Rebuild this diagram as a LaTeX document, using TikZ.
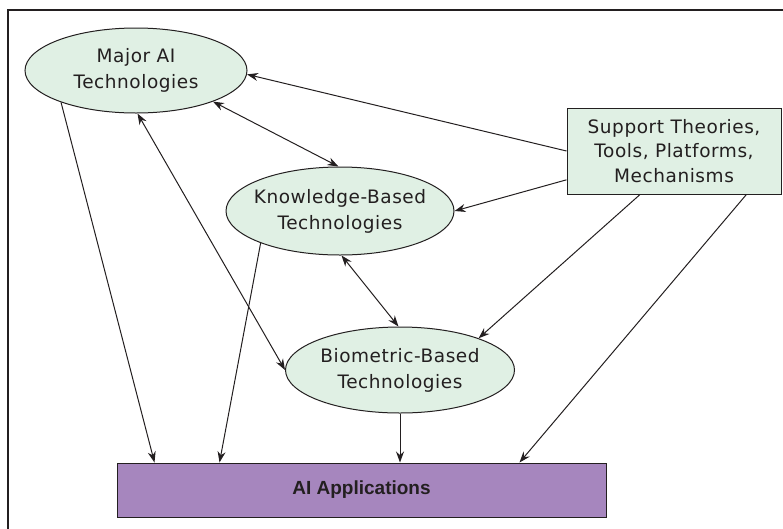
\documentclass[tikz,border=0pt]{standalone}
\usepackage{fontspec}
\setmainfont{DejaVu Sans}[LetterSpace=3]
\newfontfamily\appfont{Liberation Sans}
\usetikzlibrary{shapes.geometric,arrows.meta,calc}
\definecolor{ink}{RGB}{35,31,32}
\definecolor{mint}{RGB}{224,240,228}
\definecolor{lilac}{RGB}{166,134,190}

\begin{document}
\begin{tikzpicture}
        [x=1pt, y=-1pt,
        tech/.style={ellipse, draw=ink, fill=mint, line width=1pt, minimum width=222pt, minimum height=85pt, inner sep=0pt},
        txt/.style={align=center, text=ink, font=\fontsize{18.5}{26}\selectfont},
        theorybox/.style={rectangle, draw=ink, fill=mint, line width=1pt, minimum width=214pt, minimum height=86pt, inner sep=0pt, txt, font=\fontsize{18.5}{24.5}\selectfont},
        appbox/.style={rectangle, draw=ink, fill=lilac, line width=1pt, minimum width=489pt, minimum height=54pt, text=ink, font=\appfont\bfseries\fontsize{19}{22}\selectfont},
        link/.style={ink, line width=1pt, -{Stealth[length=11pt,width=8pt]}},
        both/.style={link, {Stealth[length=11pt,width=8pt]}-{Stealth[length=11pt,width=8pt]}}]

        \clip (0,0) rectangle (783,528);

        % outer frame
        \draw[ink, line width=1.6pt] (8,10) rectangle (800,545);

        \node[tech, label={[txt]center:Major AI\\Technologies}] (major) at (136,70.5) {};
        \node[tech, minimum width=228pt, minimum height=88pt, label={[txt]center:Knowledge-Based\\Technologies}] (know) at (340,211) {};
        \node[tech, minimum width=229pt, minimum height=86pt, label={[txt]center:Biometric-Based\\Technologies}] (bio) at (400,370) {};
        \node[theorybox] (theory) at (674,151) {Support Theories,\\Tools, Platforms,\\Mechanisms};
        \node[appbox] (app) at (361.5,490) {AI Applications};

        % support edges
        \draw[link] (theory.west) -- (major.-2);
        \draw[link] (theory.195) -- (know.east);
        \draw[link] (theory.-128) -- (bio.22);
        \draw[link] (theory.-31) -- ($(app.north west)+(403,0)$);

        % two-way edges
        \draw[both] (major.-22) -- (know.92);
        \draw[both] (major.-88) -- (bio.180);
        \draw[both] (know.-88) -- (bio.92);

        % edges to applications
        \draw[link] (major.-157) -- ($(app.north west)+(38,0)$);
        \draw[link] (know.-158) -- ($(app.north west)+(103,0)$);
        \draw[link] (bio.south) -- (bio.south |- app.north);

    \end{tikzpicture}
\end{document}
